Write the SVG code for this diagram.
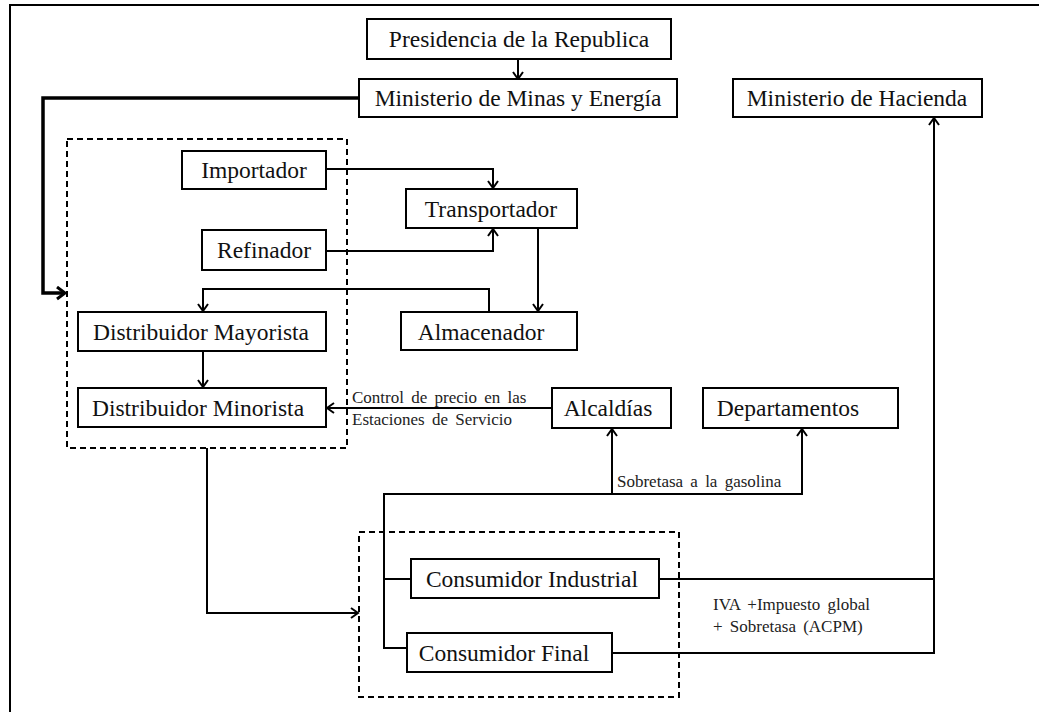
<svg xmlns="http://www.w3.org/2000/svg" width="1039" height="712" viewBox="0 0 1039 712">
<style>
.box{fill:#fff;stroke:#000;stroke-width:2}
.lbl{font-family:"Liberation Serif","Times New Roman",serif;font-size:23.5px;fill:#111;text-anchor:middle}
.small{font-family:"Liberation Serif","Times New Roman",serif;font-size:17px;fill:#222}
.ln{fill:none;stroke:#000;stroke-width:2}
.thick{fill:none;stroke:#000;stroke-width:3.5}
.dash{fill:none;stroke:#000;stroke-width:2;stroke-dasharray:6,4}
</style>
<defs>
<marker id="ah" markerUnits="userSpaceOnUse" markerWidth="14" markerHeight="14" refX="10" refY="6" orient="auto">
<path d="M3,1 L10,6 L3,11" fill="none" stroke="#000" stroke-width="2"/>
</marker>
<marker id="ahb" markerUnits="userSpaceOnUse" markerWidth="16" markerHeight="16" refX="11" refY="7" orient="auto">
<path d="M3,1 L11,7 L3,13" fill="none" stroke="#000" stroke-width="3"/>
</marker>
</defs>
<rect width="1039" height="712" fill="#fff"/>
<path d="M10,712 V5 H1039" fill="none" stroke="#000" stroke-width="2"/>
<g id="groups">
<rect class="dash" x="67" y="139" width="280" height="309"/>
<rect class="dash" x="359" y="532" width="320" height="165"/>
</g>
<g id="connectors">
<path class="ln" d="M518,59 V79" marker-end="url(#ah)"/>
<path class="thick" d="M359,98 H43 V293 H65" marker-end="url(#ahb)"/>
<path class="ln" d="M326,169 H493 V188" marker-end="url(#ah)"/>
<path class="ln" d="M326,251 H493 V229" marker-end="url(#ah)"/>
<path class="ln" d="M538,228 V311" marker-end="url(#ah)"/>
<path class="ln" d="M489,312 V289 H203 V311" marker-end="url(#ah)"/>
<path class="ln" d="M203,351 V387" marker-end="url(#ah)"/>
<path class="ln" d="M552,408 H327" marker-end="url(#ah)"/>
<path class="ln" d="M207,448 V613 H358" marker-end="url(#ah)"/>
<path class="ln" d="M411,579 H384 V494 H802 V429" marker-end="url(#ah)"/>
<path class="ln" d="M612,494 V429" marker-end="url(#ah)"/>
<path class="ln" d="M384,579 V648 H407"/>
<path class="ln" d="M659,579 H934"/>
<path class="ln" d="M612,653 H934 V118" marker-end="url(#ah)"/>
<text class="small" x="352" y="403" word-spacing="3">Control de precio en las</text>
<text class="small" x="352" y="425" word-spacing="3">Estaciones de Servicio</text>
<text class="small" x="617" y="487" word-spacing="3">Sobretasa a la gasolina</text>
<text class="small" x="713" y="610" word-spacing="3">IVA +Impuesto global</text>
<text class="small" x="713" y="632" word-spacing="3">+ Sobretasa (ACPM)</text>
</g>
<g id="presidencia"><rect class="box" x="367" y="19" width="304" height="40"/><text class="lbl" x="519" y="47">Presidencia de la Republica</text></g>
<g id="minminas"><rect class="box" x="359" y="79" width="318" height="38"/><text class="lbl" x="518" y="106">Ministerio de Minas y Energía</text></g>
<g id="hacienda"><rect class="box" x="733" y="79" width="249" height="38"/><text class="lbl" x="857" y="106">Ministerio de Hacienda</text></g>
<g id="importador"><rect class="box" x="182" y="151" width="144" height="38"/><text class="lbl" x="254" y="178">Importador</text></g>
<g id="refinador"><rect class="box" x="202" y="230" width="124" height="40"/><text class="lbl" x="264" y="258">Refinador</text></g>
<g id="transportador"><rect class="box" x="406" y="189" width="171" height="39"/><text class="lbl" x="491" y="217">Transportador</text></g>
<g id="almacenador"><rect class="box" x="401" y="312" width="176" height="38"/><text class="lbl" x="481" y="340">Almacenador</text></g>
<g id="mayorista"><rect class="box" x="78" y="312" width="248" height="39"/><text class="lbl" x="201" y="340">Distribuidor Mayorista</text></g>
<g id="minorista"><rect class="box" x="78" y="388" width="248" height="39"/><text class="lbl" x="198" y="416">Distribuidor Minorista</text></g>
<g id="alcaldias"><rect class="box" x="552" y="388" width="119" height="40"/><text class="lbl" x="608" y="416">Alcaldías</text></g>
<g id="departamentos"><rect class="box" x="703" y="388" width="195" height="40"/><text class="lbl" x="788" y="416">Departamentos</text></g>
<g id="industrial"><rect class="box" x="411" y="559" width="248" height="39"/><text class="lbl" x="532" y="587">Consumidor Industrial</text></g>
<g id="final"><rect class="box" x="407" y="633" width="205" height="39"/><text class="lbl" x="504" y="661">Consumidor Final</text></g>
</svg>
